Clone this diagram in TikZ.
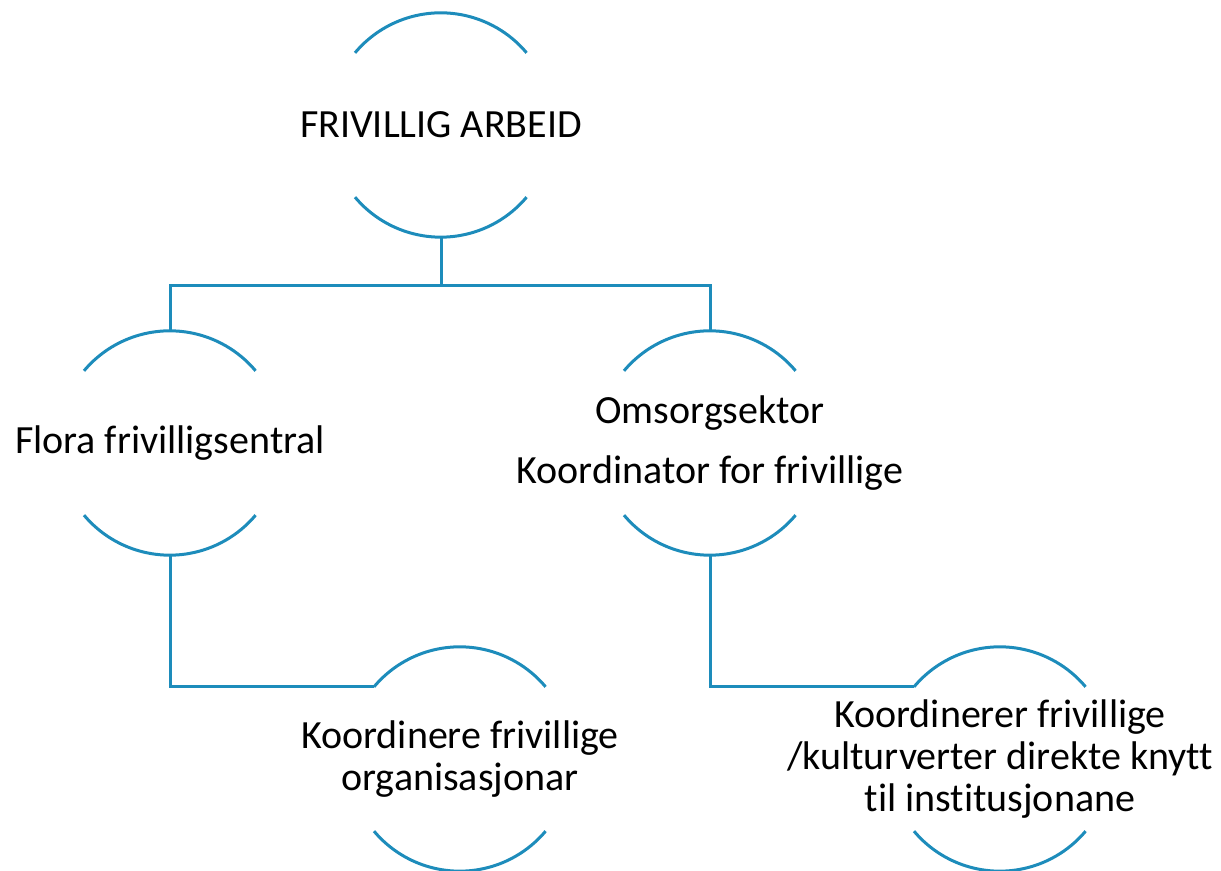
\documentclass[tikz,border=0pt]{standalone}
\usepackage{fontspec}
\setmainfont{Carlito}[Ligatures=NoCommon]
\definecolor{ringblue}{HTML}{1D8CBB}
\tikzset{
  ring/.style={circle, minimum size=168pt, inner sep=0pt},
  txt/.style={align=center, inner sep=0pt, font=\fontsize{30}{31.5}\selectfont},
  arcline/.style={draw=ringblue, line width=2.25pt},
  link/.style={draw=ringblue, line width=2.25pt}
}
\begin{document}
\begin{tikzpicture}[x=0.75pt,y=0.75pt]
\useasboundingbox (0,0) rectangle (1221,871);
\node[ring] (top) at (441,746){};
\node[ring] (flora) at (170,428){};
\node[ring] (omsorg) at (710,428){};
\node[ring] (koord) at (460,112){};
\node[ring] (kultur) at (1000,112){};
\node[txt] (topt) at (top) {FRIVILLIG ARBEID};
\node[txt] (florat) at (flora) {Flora frivilligsentral};
\node[txt] (omsorgt) at (omsorg) {Omsorgsektor\\[13.5pt]Koordinator for frivillige};
\node[txt] (koordt) at (koord) {Koordinere frivillige\\organisasjonar};
\node[txt] (kulturt) at (kultur) {Koordinerer frivillige\\/kulturverter direkte knytt\\til institusjonane};
\foreach \n in {top,flora,omsorg,koord,kultur}{
  \draw[arcline] (\n.140) arc[start angle=140, end angle=40, radius=84pt];
  \draw[arcline] (\n.220) arc[start angle=220, end angle=320, radius=84pt];
}
\coordinate (hub) at (441,585);
\draw[link] (top.south) -- (hub);
\draw[link] (hub) -| (flora.north);
\draw[link] (hub) -| (omsorg.north);
\draw[link] (flora.south) |- (koord.140);
\draw[link] (omsorg.south) |- (kultur.140);
\end{tikzpicture}
\end{document}
